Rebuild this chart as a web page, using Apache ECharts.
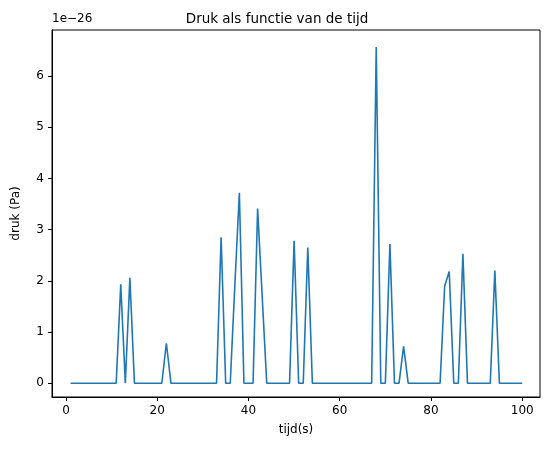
<!DOCTYPE html><html><head><meta charset="utf-8"><script src="https://cdn.jsdelivr.net/npm/echarts@6/dist/echarts.min.js"></script></head><body style="margin:0"><div id="c" style="width:554px;height:453px"></div><script>
const peaks = {12:1.93,14:2.06,22:0.78,34:2.85,37:1.9,38:3.72,42:3.41,43:1.7,50:2.78,53:2.65,68:6.57,71:2.72,74:0.72,83:1.9,84:2.18,87:2.53,94:2.2};
const tijd = []; const druk = [];
for (let t=1;t<=100;t++){ tijd.push(t); druk.push(peaks[t]||0); }
const xTicks=[0,20,40,60,80,100];
const yTicks=[0,1,2,3,4,5,6];
const font='DejaVu Sans';
const chart=echarts.init(document.getElementById('c'));
chart.setOption({
 animation:false,
 title:{text:'Druk als functie van de tijd',left:'center',top:7,textStyle:{fontFamily:font,fontSize:13.5,fontWeight:'normal',color:'#000'}},
 graphic:[{type:'text',left:52,top:13,style:{text:'1e−26',font:'12px DejaVu Sans',fill:'#000'}}],
 grid:{left:52,right:14,top:30,bottom:56},
 xAxis:{type:'value',min:-3.07,max:103.9,name:'tijd(s)',nameLocation:'middle',nameGap:27,
  nameTextStyle:{fontFamily:font,fontSize:12,color:'#000'},
  axisLine:{onZero:false,lineStyle:{color:'#000'}},axisTick:{show:true,length:4,lineStyle:{color:'#000'},customValues:xTicks},
  axisLabel:{fontFamily:font,fontSize:12,color:'#000',customValues:xTicks},splitLine:{show:false}},
 yAxis:{type:'value',min:-0.27,max:6.9,name:'druk (Pa)',nameLocation:'middle',nameGap:30,
  nameTextStyle:{fontFamily:font,fontSize:12,color:'#000'},
  axisLine:{show:true,onZero:false,lineStyle:{color:'#000'}},axisTick:{show:true,length:4,lineStyle:{color:'#000'},customValues:yTicks},
  axisLabel:{fontFamily:font,fontSize:12,color:'#000',customValues:yTicks},splitLine:{show:false}},
 series:[{type:'line',data:tijd.map((t,i)=>[t,druk[i]]),showSymbol:false,lineStyle:{color:'#1f77b4',width:1.6}}]
});
chart.getZr().add(new echarts.graphic.Rect({shape:{x:52,y:30,width:488,height:367},style:{fill:'none',stroke:'#000',lineWidth:1},silent:true}));
</script></body></html>
